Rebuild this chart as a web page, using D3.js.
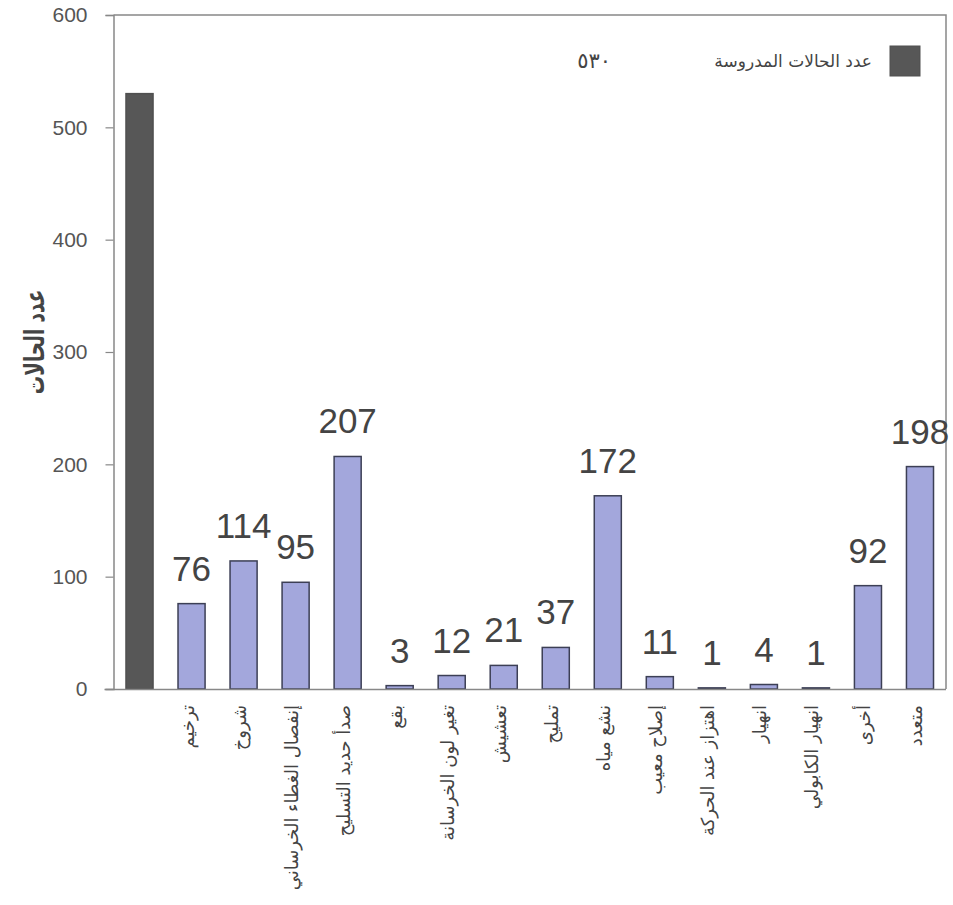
<!DOCTYPE html>
<html>
<head>
<meta charset="utf-8">
<script src="https://cdn.jsdelivr.net/npm/d3@7"></script>
<style>
  html, body { margin: 0; padding: 0; background: #fff; }
  svg { display: block; }
</style>
</head>
<body>
<script>
// ---- data ----
const categories = [
  "",
  "ترخيم",
  "شروخ",
  "إنفصال الغطاء الخرساني",
  "صدأ حديد التسليح",
  "بقع",
  "تغير لون الخرسانة",
  "تعشيش",
  "تمليح",
  "نشع مياه",
  "إصلاح معيب",
  "اهتزاز عند الحركة",
  "انهيار",
  "انهيار الكابولي",
  "أخرى",
  "متعدد"
];
const values = [530, 76, 114, 95, 207, 3, 12, 21, 37, 172, 11, 1, 4, 1, 92, 198];
const showValueLabel = [false, true, true, true, true, true, true, true, true, true, true, true, true, true, true, true];
const yTicks = [0, 100, 200, 300, 400, 500, 600];
const yTitle = "عدد الحالات";
const legendLabel = "عدد الحالات المدروسة";
const legendValue = "٥٣٠";

// ---- layout ----
const W = 953, H = 905;
const mLeft = 113.5, mRight = 946, mTop = 15, mBottom = 689;

const svg = d3.select("body").append("svg")
  .attr("width", W).attr("height", H);

const x = d3.scaleBand()
  .domain(d3.range(categories.length))
  .range([mLeft, mRight])
  .paddingInner(0.48)
  .paddingOuter(0.24);

const y = d3.scaleLinear().domain([0, 600]).range([mBottom, mTop]);

// frame (top and right borders)
svg.append("path")
  .attr("d", `M${mLeft},${mTop}H${mRight}V${mBottom}`)
  .attr("fill", "none")
  .attr("stroke", "#888")
  .attr("stroke-width", 1.5);

// bars
svg.append("g").selectAll("rect")
  .data(values)
  .join("rect")
  .attr("x", (d, i) => x(i))
  .attr("y", d => y(d))
  .attr("width", x.bandwidth())
  .attr("height", d => y(0) - y(d))
  .attr("fill", (d, i) => i === 0 ? "#575757" : "#a3a7dc")
  .attr("stroke", (d, i) => i === 0 ? "#505050" : "#3c3f55")
  .attr("stroke-width", 1.5);

// y axis
const yAxis = d3.axisLeft(y)
  .tickValues(yTicks)
  .tickSize(8)
  .tickPadding(18)
  .tickFormat(d3.format("d"));
const gy = svg.append("g")
  .attr("transform", `translate(${mLeft},0)`)
  .call(yAxis);
gy.select(".domain").attr("stroke", "#888").attr("stroke-width", 1.5);
gy.selectAll(".tick line").attr("stroke", "#888").attr("stroke-width", 1.2);
gy.selectAll(".tick text")
  .attr("font-family", "'Liberation Sans', Arial, sans-serif")
  .attr("font-size", 21)
  .attr("fill", "#555");

// x axis
const xAxis = d3.axisBottom(x)
  .tickSize(0)
  .tickFormat(i => categories[i]);
const gx = svg.append("g")
  .attr("transform", `translate(0,${mBottom})`)
  .call(xAxis);
gx.select(".domain")
  .attr("d", `M${mLeft - 9},0.5H${mRight}`)
  .attr("stroke", "#888").attr("stroke-width", 1.5);
gx.selectAll(".tick text")
  .attr("font-family", "'DejaVu Sans', sans-serif")
  .attr("font-size", 18)
  .attr("fill", "#444")
  .attr("text-anchor", "end")
  .attr("dy", "0.35em")
  .attr("transform", "translate(-4,16) rotate(-90)")
  .attr("x", 0)
  .attr("y", 0);

// value labels
svg.append("g").selectAll("text")
  .data(values.map((v, i) => ({ v, i })).filter(d => showValueLabel[d.i]))
  .join("text")
  .attr("x", d => x(d.i) + x.bandwidth() / 2)
  .attr("y", d => y(d.v) - 23)
  .attr("text-anchor", "middle")
  .attr("font-family", "'Liberation Sans', Arial, sans-serif")
  .attr("font-size", 35)
  .attr("fill", "#444")
  .text(d => d.v);

// y title
svg.append("text")
  .attr("transform", `translate(35,342) rotate(-90) scale(0.68,1)`)
  .attr("text-anchor", "middle")
  .attr("dy", "0.35em")
  .attr("font-family", "'DejaVu Sans', sans-serif")
  .attr("font-weight", "bold")
  .attr("font-size", 27)
  .attr("fill", "#444")
  .text(yTitle);

// legend
const lg = svg.append("g");
lg.append("rect")
  .attr("x", 890).attr("y", 46)
  .attr("width", 30).attr("height", 30)
  .attr("fill", "#575757")
  .attr("stroke", "#505050");
lg.append("text")
  .attr("x", 872).attr("y", 61)
  .attr("dy", "0.35em")
  .attr("text-anchor", "end")
  .attr("font-family", "'DejaVu Sans', sans-serif")
  .attr("font-size", 17)
  .attr("fill", "#444")
  .text(legendLabel);
lg.append("text")
  .attr("x", 611).attr("y", 61)
  .attr("dy", "0.35em")
  .attr("text-anchor", "end")
  .attr("font-family", "'DejaVu Sans', sans-serif")
  .attr("font-size", 21)
  .attr("letter-spacing", 10)
  .attr("fill", "#444")
  .text(legendValue);
</script>
</body>
</html>
